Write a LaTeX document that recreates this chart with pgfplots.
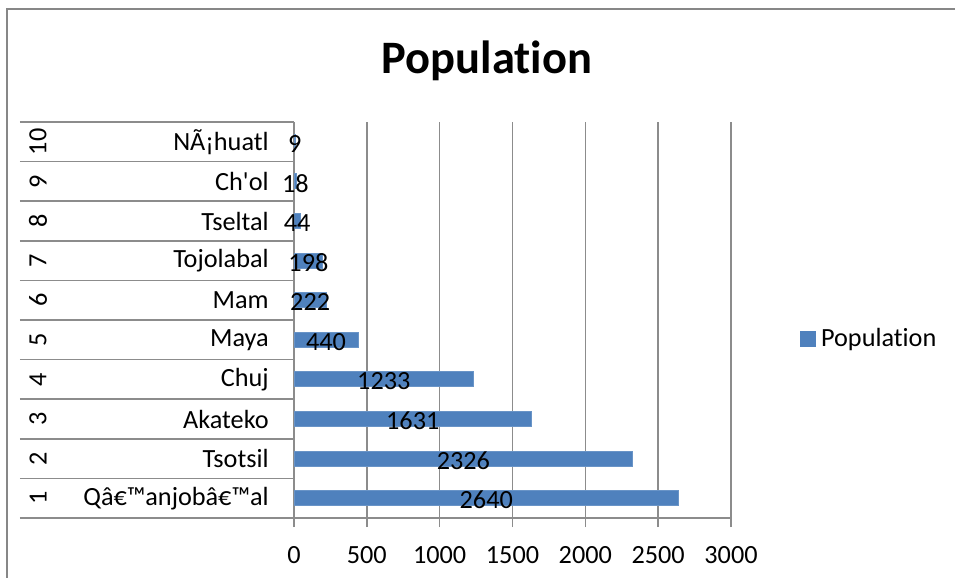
\documentclass[border=0pt]{standalone}
\usepackage{pgfplots}
\usepackage{pgfplotstable}
\pgfplotsset{compat=1.18}
\usepackage{fontspec}
\setmainfont{Carlito}[Ligatures=CommonOff]
\newfontfamily\calfont{Carlito}[Ligatures=CommonOff]
\definecolor{barblue}{HTML}{4F81BD}
\definecolor{gridgray}{HTML}{8C8C8C}
\definecolor{framegray}{HTML}{878787}
\newcommand\lblfont{\calfont\fontsize{10.5}{12.5}\selectfont}

\pgfplotstableread{
idx pop
1  2640
2  2326
3  1631
4  1233
5  440
6  222
7  198
8  44
9  18
10 9
}\popdata

\begin{document}
\begin{tikzpicture}
\useasboundingbox (0,0) rectangle (382pt,230.8pt);
% outer chart frame (left and top edges visible)
\draw[framegray, line width=0.8pt] (2.6pt,-1pt) -- (2.6pt,227pt) -- (383pt,227pt);
\node[font=\calfont\fontsize{18.6}{21}\selectfont\bfseries, anchor=base] at (194.8pt,201.6pt) {Population};
\begin{axis}[
    at={(117.6pt,23.6pt)}, anchor=south west,
    scale only axis,
    width=174.8pt, height=158.4pt,
    xmin=0, xmax=3000,
    ymin=0.5, ymax=10.5,
    xtick={0,500,...,3000},
    ytick={1,...,10},
    yticklabels={{Qâ€™anjobâ€™al},Tsotsil,Akateko,Chuj,Maya,Mam,Tojolabal,Tseltal,{Ch'ol},{NÃ¡huatl}},
    minor ytick={0.5,1.5,...,10.5},
    major y tick style={draw=none},
    minor y tick style={gridgray, line width=0.6pt},
    major x tick style={gridgray, line width=0.6pt},
    tick align=outside,
    major tick length=3.6pt,
    minor tick length=109.6pt,
    axis x line*=bottom, axis y line*=left,
    axis line style={gridgray, line width=0.6pt, -},
    xmajorgrids,
    major grid style={gridgray, line width=0.6pt},
    ticklabel style={font=\lblfont},
    /pgf/number format/assume math mode=true,
    /pgf/number format/1000 sep={},
    scaled x ticks=false,
    xticklabel style={yshift=-4.2pt},
    yticklabel style={xshift=-3pt},
    clip=false,
    legend style={draw=none, fill=none, at={(1.157,0.4508)}, anchor=west,
        inner sep=0pt, font=\lblfont},
    legend image code/.code={\fill[barblue] (0pt,-3pt) rectangle (6pt,3pt);},
]
\addplot[xbar, bar width=6pt, fill=barblue, draw=barblue!85!white] table[x=pop, y=idx] {\popdata};
\addlegendentry{Population}
\addplot[forget plot, draw=none, mark=none,
    nodes near coords, point meta=explicit,
    nodes near coords={\pgfmathprintnumber[1000 sep={}]{\pgfplotspointmeta}},
    every node near coord/.append style={anchor=center, yshift=-0.8pt, font=\lblfont}]
    table[x expr=\thisrow{pop}/2, y=idx, meta=pop] {\popdata};
\pgfplotsinvokeforeach{1,...,10}{
  \node[rotate=90, font=\lblfont] at (axis cs:-1757,#1) {#1};
}
\end{axis}
\end{tikzpicture}
\end{document}
